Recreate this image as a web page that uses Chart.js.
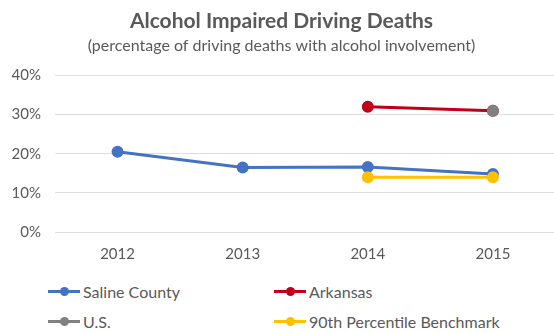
<!DOCTYPE html>
<html>
<head>
<meta charset="utf-8">
<script src="https://cdn.jsdelivr.net/npm/chart.js@4"></script>
<style>
  body { margin: 0; background: #fff; width: 554px; height: 333px; overflow: hidden; font-family: Lato, "Open Sans", sans-serif; }
  #wrap { position: relative; width: 563px; height: 268px; }
  #legend { position: absolute; top: 280px; left: 48px; display: grid; grid-template-columns: 226px 260px; row-gap: 8px; }
  .item { display: flex; align-items: center; font-size: 16px; color: #595959; height: 22px; }
  .swatch { position: relative; width: 32px; height: 3px; margin-right: 3px; }
  .swatch span { position: absolute; left: 12px; top: -3px; width: 9px; height: 9px; border-radius: 50%; }
</style>
</head>
<body>
<div id="wrap"><canvas id="deathsChart"></canvas></div>
<div id="legend"></div>
<script>
// Chart data
const years = ['2012', '2013', '2014', '2015'];
const salineCounty = [20.5, 16.5, 16.6, 14.8];
const arkansas = [null, null, 32, 31];
const unitedStates = [null, null, null, 31];
const benchmark = [null, null, 14, 14];
const yTicks = [0, 10, 20, 30, 40];

const series = [
  { label: 'Saline County', data: salineCounty, color: '#4472C4', order: 2 },
  { label: 'Arkansas', data: arkansas, color: '#C00018', order: 3 },
  { label: 'U.S.', data: unitedStates, color: '#808080', order: 0 },
  { label: '90th Percentile Benchmark', data: benchmark, color: '#FFC000', order: 1 }
];

const ctx = document.getElementById('deathsChart').getContext('2d');
const deathsChart = new Chart(ctx, {
  type: 'line',
  data: {
    labels: years,
    datasets: series.map(s => ({
      label: s.label,
      data: s.data,
      borderColor: s.color,
      backgroundColor: s.color,
      borderWidth: 3,
      pointRadius: 4.5,
      pointHoverRadius: 4.5,
      order: s.order,
      spanGaps: false
    }))
  },
  options: {
    responsive: true,
    maintainAspectRatio: false,
    animation: false,
    layout: { padding: 0 },
    plugins: {
      legend: { display: false },
      tooltip: { enabled: false },
      title: {
        display: true,
        text: 'Alcohol Impaired Driving Deaths',
        color: '#595959',
        font: { family: 'Lato', size: 21, weight: 'bold' },
        padding: { top: 9, bottom: 2 }
      },
      subtitle: {
        display: true,
        text: '(percentage of driving deaths with alcohol involvement)',
        color: '#595959',
        font: { family: 'Lato', size: 16 },
        padding: { bottom: 20 }
      }
    },
    scales: {
      x: {
        offset: true,
        grid: { display: false },
        border: { display: false },
        ticks: { color: '#595959', font: { family: 'Lato', size: 15 }, padding: 5 }
      },
      y: {
        min: 0,
        max: 40,
        afterBuildTicks: axis => { axis.ticks = yTicks.map(v => ({ value: v })); },
        afterFit: axis => { axis.width = 55; },
        grid: { color: '#dedede', drawTicks: false },
        border: { display: false },
        ticks: {
          color: '#595959',
          font: { family: 'Lato', size: 15 },
          padding: 14,
          callback: v => v + '%'
        }
      }
    }
  }
});

// Two-column legend below the chart
const legend = document.getElementById('legend');
series.forEach(s => {
  const item = document.createElement('div');
  item.className = 'item';
  item.innerHTML = `<div class="swatch" style="background:${s.color}"><span style="background:${s.color}"></span></div>${s.label}`;
  legend.appendChild(item);
});
</script>
</body>
</html>
